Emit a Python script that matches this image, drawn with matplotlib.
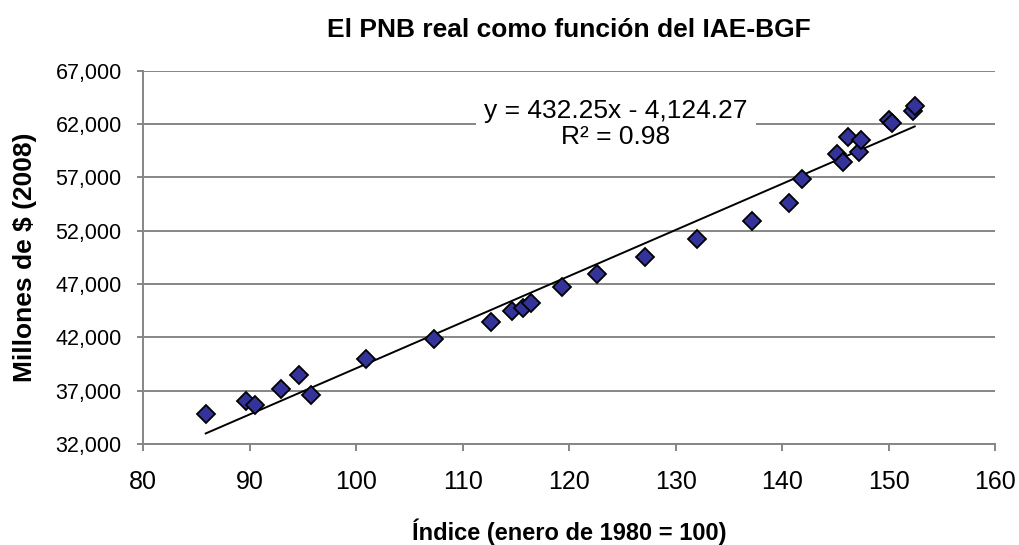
import matplotlib
matplotlib.use("Agg")
import matplotlib.pyplot as plt
import numpy as np

# Data
indice = [85.86, 89.64, 90.49, 92.9, 94.62, 95.72, 100.88, 107.3, 112.62, 114.59,
          115.62, 116.38, 119.34, 122.57, 127.1, 131.96, 137.18, 140.66, 141.88,
          145.16, 145.73, 146.2, 147.2, 147.39, 150.05, 150.33, 152.3, 152.46]
pnb = [34784, 36060, 35656, 37128, 38469, 36594, 39969, 41816, 43409, 44497,
       44722, 45247, 46747, 47937, 49562, 51219, 52934, 54622, 56844,
       59188, 58466, 60809, 59347, 60500, 62375, 62066, 63247, 63688]
slope = 432.25
intercept = -4124.27
eq_text = "y = 432.25x - 4,124.27\nR² = 0.98"
title = "El PNB real como función del IAE-BGF"
xlabel = "Índice (enero de 1980 = 100)"
ylabel = "Millones de $ (2008)"
xticks = [80, 90, 100, 110, 120, 130, 140, 150, 160]
yticks = [32000, 37000, 42000, 47000, 52000, 57000, 62000, 67000]

plt.rcParams['font.family'] = ['Liberation Sans', 'DejaVu Sans']

fig = plt.figure(figsize=(10.19, 5.45), dpi=100)
ax = fig.add_axes([0.1406, 0.1853, 0.8359, 0.685])

gray = '#868686'
ax.set_xlim(80, 160)
ax.set_ylim(32000, 67000)
ax.set_xticks(xticks)
ax.set_yticks(yticks)
ax.set_yticklabels([f"{v:,}" for v in yticks], fontsize=15.5)
ax.set_xticklabels([str(v) for v in xticks], fontsize=18)
ax.grid(axis='y', color=gray, linewidth=1.4, zorder=0)
ax.set_axisbelow(True)
for s in ['top', 'right']:
    ax.spines[s].set_visible(False)
for s in ['left', 'bottom']:
    ax.spines[s].set_color(gray)
    ax.spines[s].set_linewidth(1.4)
ax.tick_params(axis='y', direction='out', length=4.5, color=gray, width=1.4, pad=11)
ax.tick_params(axis='x', direction='out', length=5, color=gray, width=1.4, pad=13.5)

xs = np.array([min(indice), max(indice)])
ax.plot(xs, slope * xs + intercept, color='black', linewidth=1.4, zorder=3)
ax.plot(indice, pnb, linestyle='none', marker='D', markersize=9.5,
        markerfacecolor='#333399', markeredgecolor='black', markeredgewidth=1.3, zorder=4)

ax.text(124.4, 61980, eq_text, ha='center', va='center', fontsize=19,
        linespacing=1.1, zorder=5,
        bbox=dict(facecolor='white', edgecolor='none', pad=6))

ax.set_title(title, fontsize=19, fontweight='bold', pad=24)
ax.set_xlabel(xlabel, fontsize=17, fontweight='bold')
ax.xaxis.set_label_coords(0.5, -0.2)
ax.set_ylabel(ylabel, fontsize=19, fontweight='bold')
ax.yaxis.set_label_coords(-0.125, 0.5)

fig.savefig("out.png", dpi=100)
